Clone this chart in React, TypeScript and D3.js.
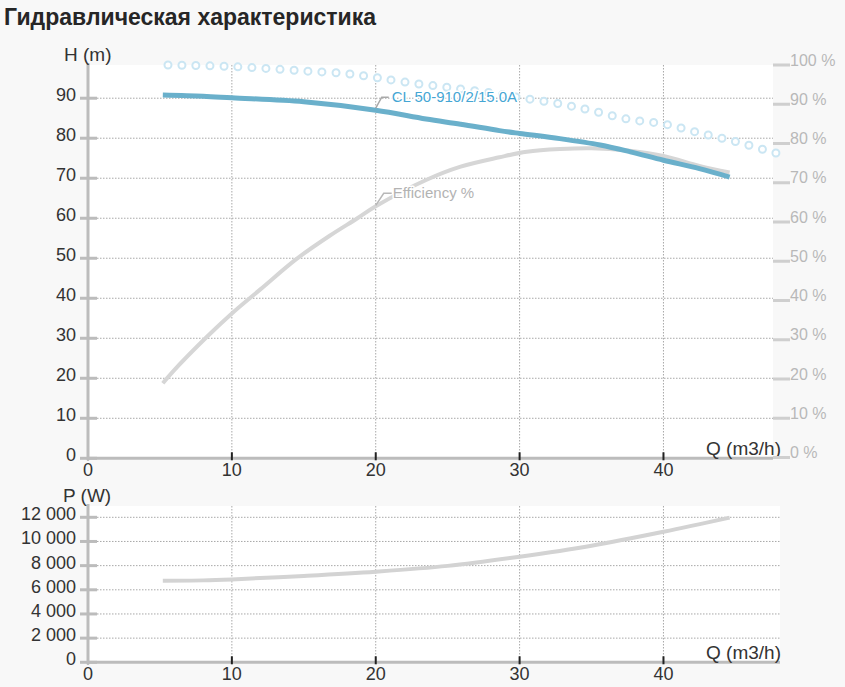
import React from "react";
import * as d3 from "d3";

// ---- data ----
const qTicks = [0, 10, 20, 30, 40];
const headTicks = [0, 10, 20, 30, 40, 50, 60, 70, 80, 90];
const pctTicks = [0, 10, 20, 30, 40, 50, 60, 70, 80, 90, 100];
const powerTicks = [0, 2000, 4000, 6000, 8000, 10000, 12000];

const headQ = [5.2, 8, 10, 15, 20, 23.5, 25.9, 28.6, 30, 32.8, 35.6, 37.7, 40, 42.5, 44.6];
const headM = [90.8, 90.5, 90.1, 89.1, 87.0, 84.8, 83.5, 81.9, 81.2, 79.9, 78.3, 76.6, 74.5, 72.4, 70.3];

const effQ = [5.2, 5.9, 8.25, 10, 12, 14.5, 16.8, 18.7, 20, 23.5, 25.9, 28.6, 30.5, 32.8, 35, 37.5, 40, 42.5, 44.6];
const effPct = [18.9, 21.9, 30.7, 36.7, 42.9, 50.6, 56.5, 60.9, 64.0, 70.7, 74.1, 76.5, 77.9, 78.6, 78.8, 78.2, 76.8, 74.3, 72.6];

const maxQ = [5.56, 10, 15, 18, 20, 22.3, 25, 28, 30, 32.8, 35, 37.5, 40, 42.5, 45, 47.3, 48.3];
const maxPct = [100, 99.6, 98.5, 97.8, 96.8, 95.5, 94.3, 92.9, 91.7, 90.1, 88.4, 86.2, 85.0, 82.7, 80.5, 78.1, 77.1];

const powQ = [5.2, 8, 10, 15, 20, 25, 30, 35, 40, 44.6];
const powW = [6750, 6780, 6860, 7150, 7500, 7980, 8740, 9650, 10800, 11970];

const labelQ = 20;
const title = "Гидравлическая характеристика";
const seriesName = "CL 50-910/2/15.0A";
const effName = "Efficiency %";

// ---- styles ----
const FONT = "'Liberation Sans', Arial, sans-serif";
const BLUE = "#6ab0cb";
const GRID = "#a8a8a8";
const AXIS = "#bcbcbc";
const TXT = "#333333";

const fmt = d3.formatLocale({ decimal: ",", thousands: " ", grouping: [3], currency: ["", ""] }).format(",");

export default function App() {
  const x = d3.scaleLinear().domain([0, 48.1]).range([88, 780]);
  const yH = d3.scaleLinear().domain([0, 98.3]).range([458.3, 65]);
  const yP = d3.scaleLinear().domain([0, 100]).range([457.5, 65]);
  const yW = d3.scaleLinear().domain([0, 12000]).range([662.3, 517.3]);

  const topRight = 773;
  const topTop = 65;
  const topBase = yH(0);
  const botRight = 780;
  const botTop = 506;
  const botBase = yW(0);

  const curve = d3.curveCatmullRom.alpha(0.5);
  const lineH = d3.line<number>().x((_, i) => x(headQ[i])).y((d) => yH(d)).curve(curve);
  const lineE = d3.line<number>().x((_, i) => x(effQ[i])).y((d) => yP(d)).curve(curve);
  const lineM = d3.line<number>().x((_, i) => x(maxQ[i])).y((d) => yP(d)).curve(curve);
  const lineW = d3.line<number>().x((_, i) => x(powQ[i])).y((d) => yW(d)).curve(curve);

  const hAt = headM[headQ.indexOf(labelQ)];
  const eAt = effPct[effQ.indexOf(labelQ)];
  const ax = x(labelQ);
  const ayH = yH(hAt);
  const ayE = yP(eAt);

  const xAxis = (base: number, right: number, top: number) => (
    <g>
      {qTicks.filter((t) => t > 0).map((t) => (
        <line key={"vg" + t} x1={x(t)} x2={x(t)} y1={top} y2={base} stroke={GRID} strokeWidth={1} strokeDasharray="1.5,1.5" />
      ))}
      <line x1={x(0)} x2={right} y1={base} y2={base} stroke={AXIS} strokeWidth={3} />
      {qTicks.map((t) => (
        <g key={"xt" + t}>
          <line x1={x(t)} x2={x(t)} y1={base - 6} y2={base + 2} stroke="#222" strokeWidth={2} />
          <text x={x(t)} y={base + 17.5} textAnchor="middle" fontSize={18} fill={TXT}>{t}</text>
        </g>
      ))}
      <text x={781} y={base - 3} textAnchor="end" fontSize={19} fill={TXT}>Q (m3/h)</text>
    </g>
  );

  return (
    <svg width={845} height={687} style={{ position: "absolute", left: 0, top: 0, display: "block" }} fontFamily={FONT}>
      <rect x={0} y={0} width={845} height={687} fill="#f8f8f8" />
      <text x={4} y={25} fontSize={23} fontWeight="bold" fill="#262626">{title}</text>

      {/* ---------- top chart ---------- */}
      <rect x={x(0)} y={topTop} width={topRight - x(0)} height={topBase - topTop} fill="#ffffff" />
      {headTicks.filter((t) => t > 0).map((t) => (
        <line key={"hg" + t} x1={x(0)} x2={topRight} y1={yH(t)} y2={yH(t)} stroke={GRID} strokeWidth={1} strokeDasharray="1.5,1.5" />
      ))}
      {xAxis(topBase, topRight, topTop)}
      <line x1={x(0)} x2={x(0)} y1={topTop - 2} y2={topBase + 2} stroke={AXIS} strokeWidth={3} />
      {headTicks.map((t) => (
        <g key={"ht" + t}>
          <line x1={80} x2={97} y1={yH(t)} y2={yH(t)} stroke={AXIS} strokeWidth={3} />
          <text x={76} y={yH(t) + 3} textAnchor="end" fontSize={18} fill={TXT}>{t}</text>
        </g>
      ))}
      <text x={64} y={61} fontSize={19} fill={TXT}>H (m)</text>
      {pctTicks.map((t) => (
        <g key={"pt" + t}>
          <line x1={topRight} x2={790} y1={yP(t)} y2={yP(t)} stroke="#cfcfcf" strokeWidth={3} />
          <text x={790} y={yP(t) + 0.5} fontSize={16} fill="#b8b8b8">{t} %</text>
        </g>
      ))}

      {/* series */}
      <path d={lineM(maxPct) || ""} fill="none" stroke="#cbe6f3" strokeWidth={9} strokeDasharray="0,14" strokeLinecap="round" />
      <path d={lineM(maxPct) || ""} fill="none" stroke="#ffffff" strokeWidth={5} strokeDasharray="0,14" strokeLinecap="round" />
      <path d={lineE(effPct) || ""} fill="none" stroke="#d6d6d6" strokeWidth={4} strokeLinejoin="round" />
      <path d={lineH(headM) || ""} fill="none" stroke={BLUE} strokeWidth={5} strokeLinejoin="round" />

      {/* data labels */}
      <path d={`M${ax},${ayH - 2}L${ax + 6},${ayH - 13}L${ax + 13},${ayH - 13}`} fill="none" stroke="#a9a9a9" strokeWidth={1.5} />
      <text x={ax + 16} y={ayH - 8.5} fontSize={15} fill="#45a6d4" stroke="#ffffff" strokeWidth={3} strokeLinejoin="round" style={{ paintOrder: "stroke" }}>{seriesName}</text>
      <path d={`M${ax},${ayE - 1}L${ax + 8},${ayE - 13}L${ax + 16},${ayE - 13}`} fill="none" stroke="#b8b8b8" strokeWidth={1.5} />
      <text x={ax + 17} y={ayE - 8.5} fontSize={15} fill="#b3b3b3" stroke="#ffffff" strokeWidth={3} strokeLinejoin="round" style={{ paintOrder: "stroke" }}>{effName}</text>

      {/* ---------- bottom chart ---------- */}
      <rect x={x(0)} y={botTop} width={botRight - x(0)} height={botBase - botTop} fill="#ffffff" />
      {powerTicks.filter((t) => t > 0).map((t) => (
        <line key={"wg" + t} x1={x(0)} x2={botRight} y1={yW(t)} y2={yW(t)} stroke={GRID} strokeWidth={1} strokeDasharray="1.5,1.5" />
      ))}
      {xAxis(botBase, botRight, botTop)}
      <line x1={x(0)} x2={x(0)} y1={botTop - 2} y2={botBase + 2} stroke={AXIS} strokeWidth={3} />
      {powerTicks.map((t) => (
        <g key={"wt" + t}>
          <line x1={80} x2={97} y1={yW(t)} y2={yW(t)} stroke={AXIS} strokeWidth={3} />
          <text x={76} y={yW(t) + 3} textAnchor="end" fontSize={18} fill={TXT}>{fmt(t)}</text>
        </g>
      ))}
      <text x={63} y={502} fontSize={19} fill={TXT}>P (W)</text>
      <path d={lineW(powW) || ""} fill="none" stroke="#d3d3d3" strokeWidth={4} strokeLinejoin="round" />
    </svg>
  );
}
